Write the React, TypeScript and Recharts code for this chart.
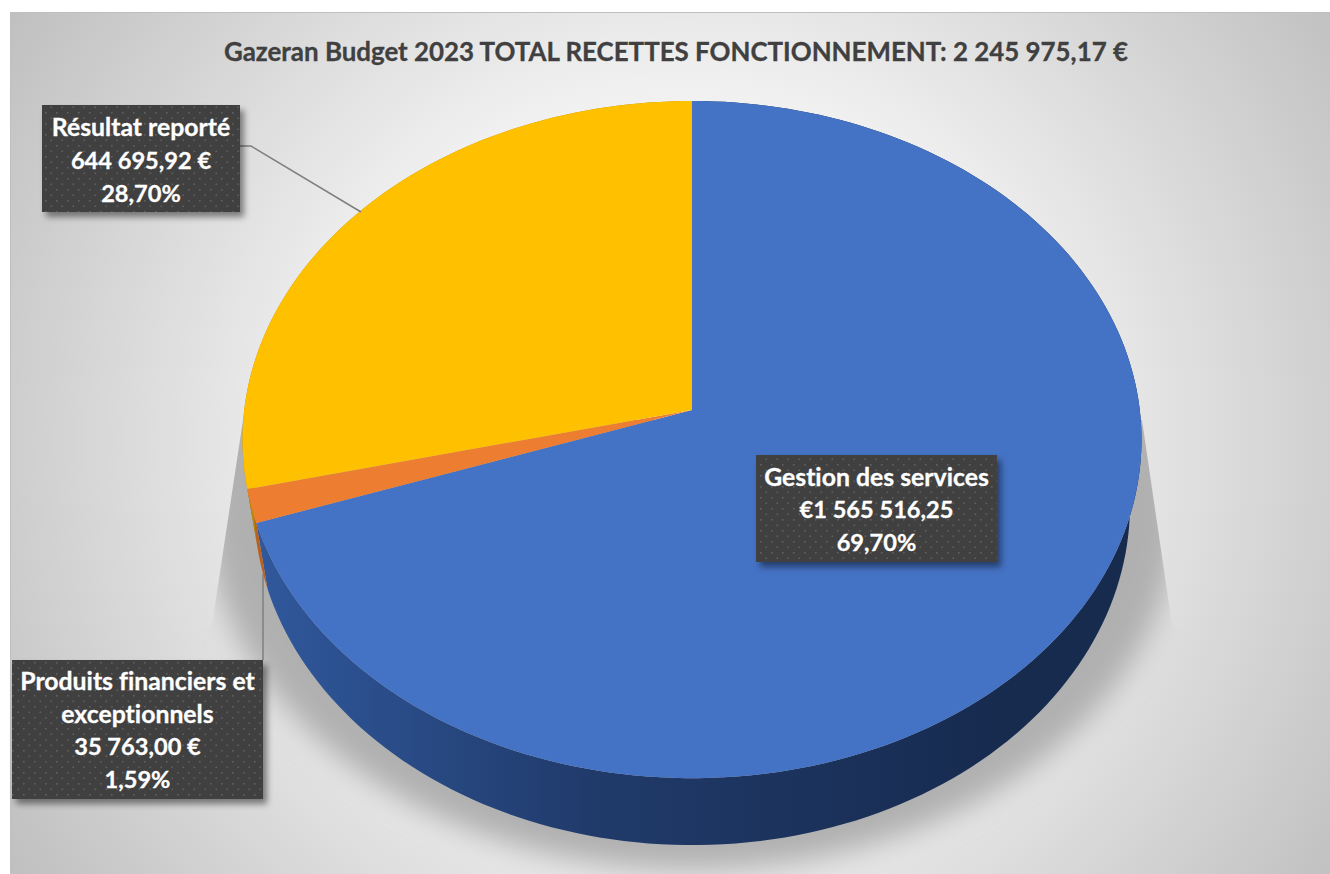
import { PieChart, Pie } from "recharts";

const categories = ["Gestion des services", "Produits financiers et exceptionnels", "Résultat reporté"];
const values = [1565516.25, 35763.0, 644695.92];
const amountLabels = ["€1 565 516,25", "35 763,00 €", "644 695,92 €"];
const percentLabels = ["69,70%", "1,59%", "28,70%"];
const title = "Gazeran Budget 2023 TOTAL RECETTES FONCTIONNEMENT: 2 245 975,17 €";

const topColors = ["#4472c4", "#ed7d31", "#ffc000"];
const sideColors = ["url(#blueSide)", "#b85f22", "#b88a00"];

const WIDTH = 1330;
const HEIGHT = 874;
const FONT = "Lato, Carlito, Calibri, sans-serif";

// where each callout box sits: x, y, w, h, wrapped name, leader line
const callouts = [
  { x: 756, y: 455, w: 241, h: 107, first: 476, step: 33, name: ["Gestion des services"], leader: "" },
  {
    x: 12, y: 660, w: 251, h: 139, first: 680, step: 33,
    name: ["Produits financiers et", "exceptionnels"], leader: "M263 660 L263 574",
  },
  { x: 42, y: 105, w: 198, h: 107, first: 126, step: 33.5, name: ["Résultat reporté"], leader: "M240 146 L251 146 L361 212" },
];

const chartData = categories.map((name, i) => ({ name, value: values[i], index: i }));

// Excel's 3D pie has some perspective, the apex is above the middle of the ellipse
const K = 0.0874;
const project = (deg: number, apexY: number, a: number, b: number) => {
  const t = (deg * Math.PI) / 180;
  const X = Math.cos(t);
  const Y = -Math.sin(t);
  const w = 1 - K * Y;
  return [692 + (a * X) / w, apexY + (b * Y) / w];
};
const top = (deg: number) => project(deg, 410, 447.8, 336);
const base = (deg: number) => project(deg, 475.4, 436.3, 337.4);

const arcPoints = (from: number, to: number, fn: (d: number) => number[]) => {
  const n = Math.max(2, Math.ceil(Math.abs(to - from) / 1.5));
  const pts: number[][] = [];
  for (let i = 0; i <= n; i++) pts.push(fn(from + ((to - from) * i) / n));
  return pts;
};
const toPath = (pts: number[][]) =>
  pts.map((p, i) => `${i ? "L" : "M"}${p[0].toFixed(2)} ${p[1].toFixed(2)}`).join(" ") + " Z";

const TopSlice = (props: any) => {
  const pts = [[692, 410], ...arcPoints(props.startAngle, props.endAngle, top)];
  return <path d={toPath(pts)} fill={topColors[props.index]} />;
};

const SideSlice = (props: any) => {
  const pts = [
    ...arcPoints(props.startAngle, props.endAngle, top),
    ...arcPoints(props.endAngle, props.startAngle, base),
  ];
  return <path d={toPath(pts)} fill={sideColors[props.index]} />;
};

const Callout = (props: any) => {
  const i = props.index;
  const c = callouts[i];
  const lines = [...c.name, amountLabels[i], percentLabels[i]];
  return (
    <g>
      {c.leader && <path d={c.leader} fill="none" stroke="#7f7f7f" strokeWidth={1.5} />}
      <rect x={c.x} y={c.y} width={c.w} height={c.h} fill="url(#dots)" filter="url(#boxShadow)" />
      {lines.map((line, k) => (
        <text
          key={k}
          x={c.x + c.w / 2}
          y={c.first + k * c.step}
          textAnchor="middle"
          dominantBaseline="central"
          fontFamily={FONT}
          fontWeight={700}
          fontSize={k < c.name.length ? 24.8 : 23.6}
          fill="#ffffff"
          stroke="#ffffff"
          strokeWidth={0.3}
          style={{ fontVariantLigatures: "none" }}
        >
          {line}
        </text>
      ))}
    </g>
  );
};

export default function App() {
  return (
    <div style={{ position: "absolute", left: 0, top: 0, width: WIDTH, height: HEIGHT, background: "#fff", overflow: "hidden" }}>
      <svg width={WIDTH} height={HEIGHT} style={{ position: "absolute", left: 0, top: 0 }}>
        <defs>
          <radialGradient id="bg" gradientUnits="userSpaceOnUse" cx={680} cy={440} r={800}>
            <stop offset="0%" stopColor="#ffffff" />
            <stop offset="45%" stopColor="#f0f0f0" />
            <stop offset="100%" stopColor="#bfbfbf" />
          </radialGradient>
          <filter id="blur" x="-20%" y="-20%" width="140%" height="140%">
            <feGaussianBlur stdDeviation="14" />
          </filter>
          <clipPath id="wedge">
            <path d="M243 420 L1142 420 L1172 625 L1330 700 L1330 874 L10 874 L10 700 L212 625 Z" />
          </clipPath>
        </defs>
        <rect x={10.5} y={12.5} width={1330} height={870} fill="url(#bg)" stroke="#bfbfbf" />
        <g clipPath="url(#wedge)">
          <ellipse cx={692} cy={508} rx={486} ry={362} fill="#b0b0b0" filter="url(#blur)" />
        </g>
      </svg>
      <PieChart width={WIDTH} height={HEIGHT} style={{ position: "absolute", left: 0, top: 0 }}>
        <defs>
          <linearGradient id="blueSide" gradientUnits="userSpaceOnUse" x1={260} y1={0} x2={1000} y2={0}>
            <stop offset="0%" stopColor="#30589c" />
            <stop offset="45%" stopColor="#203a6a" />
            <stop offset="100%" stopColor="#172b4f" />
          </linearGradient>
          <pattern id="dots" width={11} height={11} patternUnits="userSpaceOnUse">
            <rect width={11} height={11} fill="#404040" />
            <rect x={1} y={2} width={1.6} height={1.6} fill="#606060" />
            <rect x={6.5} y={7.5} width={1.6} height={1.6} fill="#606060" />
          </pattern>
          <filter id="boxShadow" x="-10%" y="-10%" width="125%" height="130%">
            <feDropShadow dx={4} dy={5} stdDeviation={3} floodColor="#000" floodOpacity={0.45} />
          </filter>
        </defs>
        <text
          x={676}
          y={51}
          textAnchor="middle"
          dominantBaseline="central"
          fontFamily={FONT}
          fontWeight={700}
          fontSize={25.9}
          fill="#404040"
          stroke="#404040"
          strokeWidth={0.3}
          style={{ fontVariantLigatures: "none" }}
        >
          {title}
        </text>
        <Pie
          data={chartData}
          dataKey="value"
          cx={692}
          cy={410}
          outerRadius={300}
          startAngle={90}
          endAngle={-270}
          stroke="none"
          isAnimationActive={false}
          shape={SideSlice}
        />
        <Pie
          data={chartData}
          dataKey="value"
          cx={692}
          cy={410}
          outerRadius={300}
          startAngle={90}
          endAngle={-270}
          stroke="none"
          isAnimationActive={false}
          shape={TopSlice}
          label={Callout}
          labelLine={false}
        />
      </PieChart>
    </div>
  );
}
